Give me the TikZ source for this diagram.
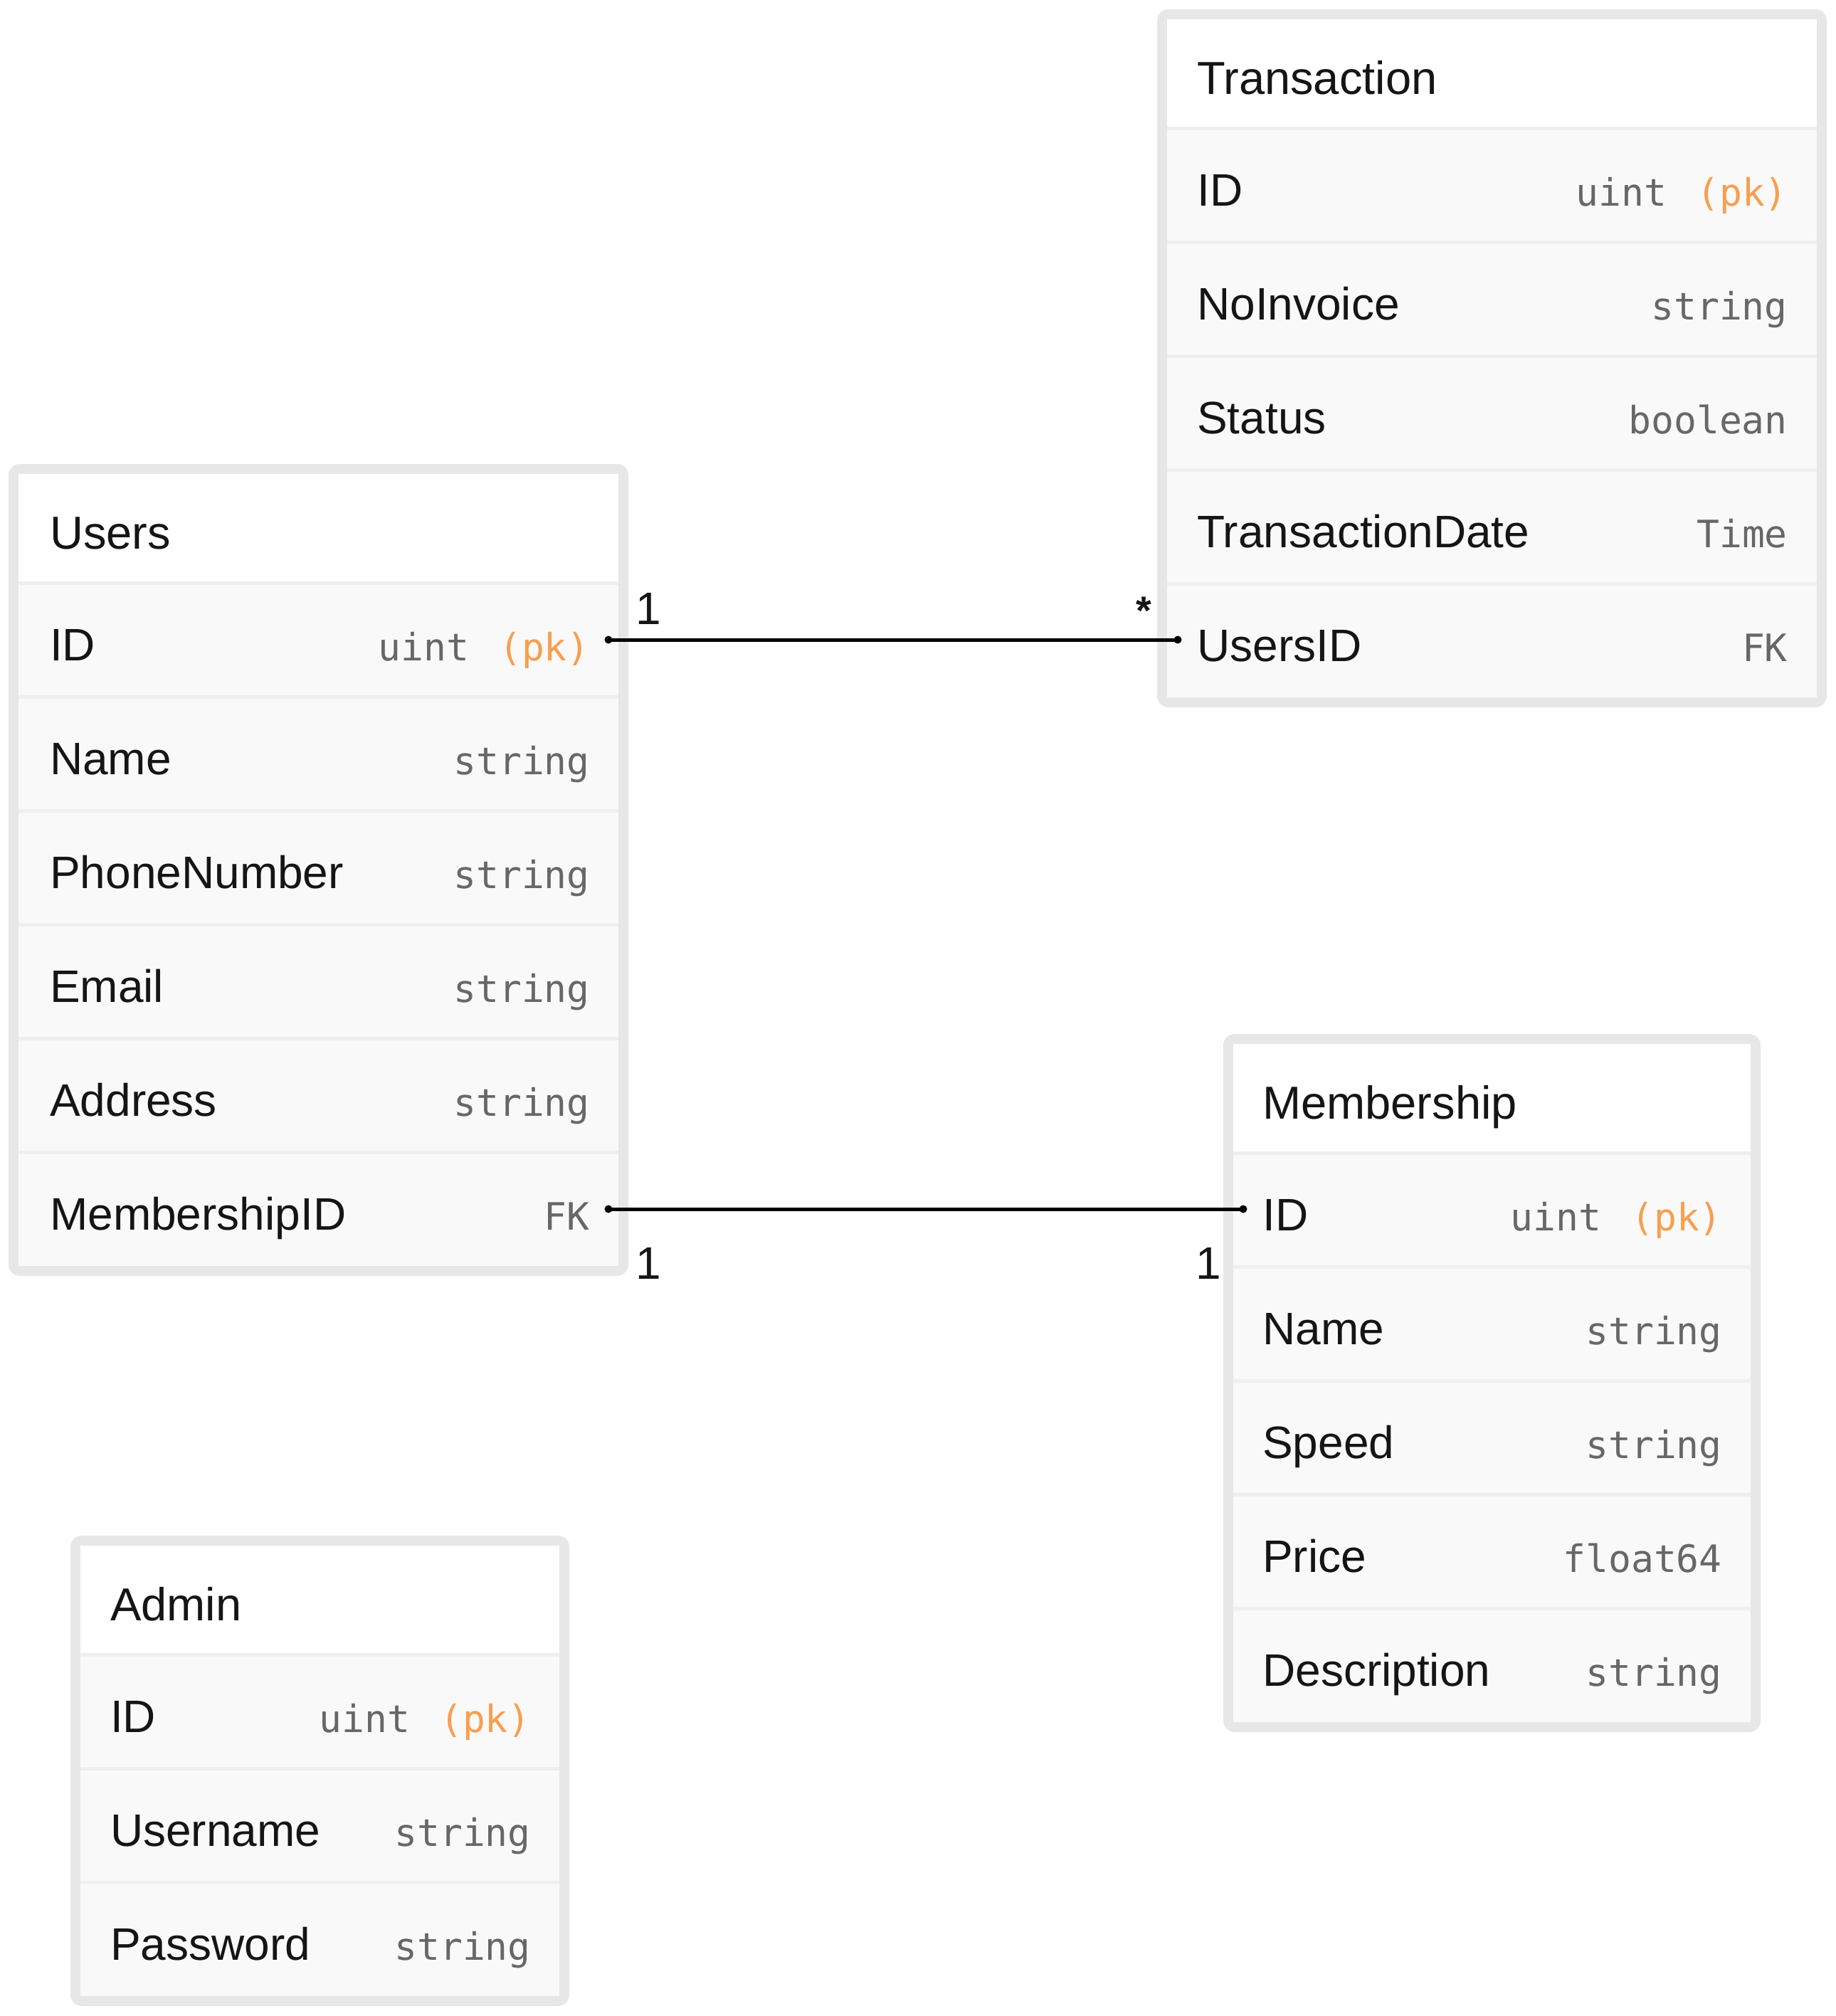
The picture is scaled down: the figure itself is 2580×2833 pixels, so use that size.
\documentclass[tikz,border=0pt]{standalone}
\usepackage{fontspec}
\setmainfont{Liberation Sans}
\newfontfamily\ermono{DejaVu Sans Mono}
\newcommand\erheadfont{\fontsize{65}{72}\selectfont}
\newcommand\erfieldfont{\fontsize{64}{72}\selectfont}
\newcommand\ertypefont{\ermono\fontsize{53}{60}\selectfont}
\newcommand\erstarfont{\bfseries\fontsize{56}{60}\selectfont}
\newcommand\pkmark{\hspace{10pt}\textcolor{pkorange}{(pk)}}
\definecolor{boxline}{HTML}{E7E7E7}
\definecolor{rowfill}{HTML}{F9F9F9}
\definecolor{rowsep}{HTML}{EFEFEF}
\definecolor{ink}{HTML}{151515}
\definecolor{typegray}{HTML}{676767}
\definecolor{pkorange}{HTML}{F79F50}
\tikzset{
  tablehead/.style={anchor=base west, inner sep=0pt, text=ink, font=\erheadfont},
  fieldname/.style={anchor=base west, inner sep=0pt, text=ink, font=\erfieldfont},
  fieldtype/.style={anchor=base east, inner sep=0pt, text=typegray, font=\ertypefont},
  card/.style={anchor=base, inner sep=0pt, text=ink, font=\erfieldfont},
  rowline/.style={draw=rowsep, line width=5pt},
  relline/.style={line width=5pt, black},
  enddot/.style={circle, fill=black, inner sep=0pt, minimum size=11pt}
}
\begin{document}
\begin{tikzpicture}[x=1pt, y=-1pt]
  \useasboundingbox (0,0) rectangle (2580,2833);
  \fill[white] (0,0) rectangle (2580,2833);

  \fill[boxline, rounded corners=16pt] (12,652) rectangle (883,1793);
  \fill[white] (26,666) rectangle (869,819);
  \fill[rowfill] (26,819) rectangle (869,1779);
  \draw[rowline] (26,819) -- (869,819);
  \draw[rowline] (26,979) -- (869,979);
  \draw[rowline] (26,1139) -- (869,1139);
  \draw[rowline] (26,1299) -- (869,1299);
  \draw[rowline] (26,1459) -- (869,1459);
  \draw[rowline] (26,1619) -- (869,1619);
  \node[tablehead] (users) at (70,771) {Users};
  \node[fieldname] (users-id) at (70,928) {ID};
  \node[fieldname] (users-name) at (70,1088) {Name};
  \node[fieldname] (users-phone) at (70,1248) {PhoneNumber};
  \node[fieldname] (users-email) at (70,1408) {Email};
  \node[fieldname] (users-address) at (70,1568) {Address};
  \node[fieldname] (users-mid) at (70,1728) {MembershipID};
  \node[fieldtype] (users-id-t) at (829,928) {uint \pkmark};
  \node[fieldtype] (users-name-t) at (829,1088) {string};
  \node[fieldtype] (users-phone-t) at (829,1248) {string};
  \node[fieldtype] (users-email-t) at (829,1408) {string};
  \node[fieldtype] (users-address-t) at (829,1568) {string};
  \node[fieldtype] (users-mid-t) at (829,1728) {FK};

  \fill[boxline, rounded corners=16pt] (1626,13) rectangle (2567,994);
  \fill[white] (1640,27) rectangle (2553,180);
  \fill[rowfill] (1640,180) rectangle (2553,980);
  \draw[rowline] (1640,180) -- (2553,180);
  \draw[rowline] (1640,340) -- (2553,340);
  \draw[rowline] (1640,500) -- (2553,500);
  \draw[rowline] (1640,660) -- (2553,660);
  \draw[rowline] (1640,820) -- (2553,820);
  \node[tablehead] (trans) at (1682,132) {Transaction};
  \node[fieldname] (trans-id) at (1682,289) {ID};
  \node[fieldname] (trans-invoice) at (1682,449) {NoInvoice};
  \node[fieldname] (trans-status) at (1682,609) {Status};
  \node[fieldname] (trans-date) at (1682,769) {TransactionDate};
  \node[fieldname] (trans-uid) at (1682,929) {UsersID};
  \node[fieldtype] (trans-id-t) at (2512,289) {uint \pkmark};
  \node[fieldtype] (trans-invoice-t) at (2512,449) {string};
  \node[fieldtype] (trans-status-t) at (2512,609) {boolean};
  \node[fieldtype] (trans-date-t) at (2512,769) {Time};
  \node[fieldtype] (trans-uid-t) at (2512,929) {FK};

  \fill[boxline, rounded corners=16pt] (1719,1453) rectangle (2474,2434);
  \fill[white] (1733,1467) rectangle (2460,1620);
  \fill[rowfill] (1733,1620) rectangle (2460,2420);
  \draw[rowline] (1733,1620) -- (2460,1620);
  \draw[rowline] (1733,1780) -- (2460,1780);
  \draw[rowline] (1733,1940) -- (2460,1940);
  \draw[rowline] (1733,2100) -- (2460,2100);
  \draw[rowline] (1733,2260) -- (2460,2260);
  \node[tablehead] (member) at (1774,1572) {Membership};
  \node[fieldname] (member-id) at (1774,1729) {ID};
  \node[fieldname] (member-name) at (1774,1889) {Name};
  \node[fieldname] (member-speed) at (1774,2049) {Speed};
  \node[fieldname] (member-price) at (1774,2209) {Price};
  \node[fieldname] (member-desc) at (1774,2369) {Description};
  \node[fieldtype] (member-id-t) at (2420,1729) {uint \pkmark};
  \node[fieldtype] (member-name-t) at (2420,1889) {string};
  \node[fieldtype] (member-speed-t) at (2420,2049) {string};
  \node[fieldtype] (member-price-t) at (2420,2209) {float64};
  \node[fieldtype] (member-desc-t) at (2420,2369) {string};

  \fill[boxline, rounded corners=16pt] (99,2158) rectangle (800,2819);
  \fill[white] (113,2172) rectangle (786,2325);
  \fill[rowfill] (113,2325) rectangle (786,2805);
  \draw[rowline] (113,2325) -- (786,2325);
  \draw[rowline] (113,2485) -- (786,2485);
  \draw[rowline] (113,2645) -- (786,2645);
  \node[tablehead] (admin) at (155,2277) {Admin};
  \node[fieldname] (admin-id) at (155,2434) {ID};
  \node[fieldname] (admin-user) at (155,2594) {Username};
  \node[fieldname] (admin-pass) at (155,2754) {Password};
  \node[fieldtype] (admin-id-t) at (746,2434) {uint \pkmark};
  \node[fieldtype] (admin-user-t) at (746,2594) {string};
  \node[fieldtype] (admin-pass-t) at (746,2754) {string};

  \node[enddot] (users-id-end) at (855,899) {};
  \node[enddot] (trans-uid-end) at (1655,899) {};
  \node[enddot] (users-mid-end) at (855,1699) {};
  \node[enddot] (member-id-end) at (1747,1699) {};
  \begin{scope}[relline]
    \draw (users-id-end.center) -- (trans-uid-end.center);
    \draw (users-mid-end.center) -- (member-id-end.center);
  \end{scope}
  \node[card] (card-users-id) at (911,877) {1};
  \node[card, font=\erstarfont] (card-trans-uid) at (1607,877) {*};
  \node[card] (card-users-mid) at (911,1797) {1};
  \node[card] (card-member-id) at (1698,1797) {1};
\end{tikzpicture}
\end{document}
